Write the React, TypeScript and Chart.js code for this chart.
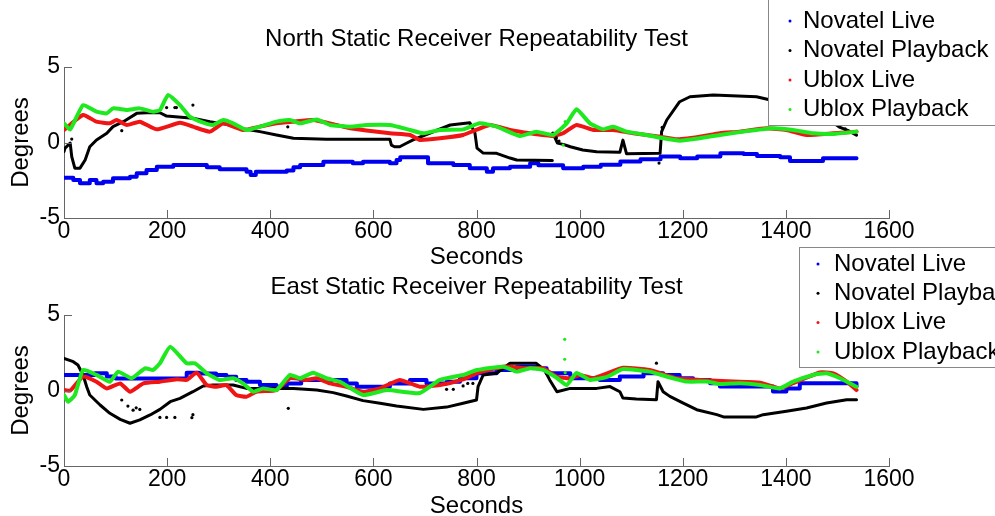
import { useEffect, useRef } from "react";
import { Chart, registerables } from "chart.js";

Chart.register(...registerables);

// ---------- data ----------
const SERIES_NAMES = ["Novatel Live", "Novatel Playback", "Ublox Live", "Ublox Playback"];
const X_MIN = 0;
const X_MAX = 1600;
const X_STEP = 200;
const Y_MIN = -5;
const Y_MAX = 5;
const Y_STEP = 5;

// North subplot
const northNovLiveT = [0, 18, 31, 50, 63, 76, 95, 128, 141, 160, 180, 212, 264, 277, 302, 354, 362, 372, 432, 445, 458, 503, 560, 580, 632, 645, 652, 706, 755, 787, 820, 832, 865, 904, 920, 968, 1007, 1041, 1079, 1118, 1157, 1195, 1228, 1273, 1318, 1344, 1389, 1408, 1472, 1537];
const northNovLiveV = [-2.33, -2.48, -2.7, -2.48, -2.7, -2.6, -2.37, -2.26, -2.04, -1.82, -1.6, -1.49, -1.49, -1.64, -1.77, -1.93, -2.15, -1.93, -1.86, -1.64, -1.49, -1.27, -1.38, -1.27, -1.38, -1.16, -0.98, -1.38, -1.49, -1.71, -1.93, -1.71, -1.6, -1.38, -1.5, -1.71, -1.6, -1.48, -1.26, -1.11, -0.93, -1.04, -0.93, -0.71, -0.76, -0.89, -0.98, -1.22, -1.04, -1.04];

// null marks a break in the recorded track
const northNovPbT = [0, 2, 12, 15, 21, 31, 41, 50, 63, 83, 95, 115, 141, 160, 186, 199, 250, 283, 315, 341, 380, 412, 445, 509, 632, 635, 641, 651, 664, 677, 710, 749, 787, 797, 801, 813, 839, 865, 878, 947, 947.5, 948, 957, 970, 982, 1006, 1033, 1078, 1084, 1091, 1156, 1159, 1169, 1194, 1214, 1259, 1343, 1366, 1420, 1480, 1505, 1520, 1537];
const northNovPbV = [-0.61, -0.37, -0.04, -0.94, -1.7, -1.7, -1.16, -0.28, 0.17, 0.61, 1.05, 1.38, 1.93, 1.97, 1.97, 1.75, 1.6, 1.38, 1.2, 0.94, 0.72, 0.5, 0.28, 0.21, 0.21, -0.17, -0.28, -0.28, -0.05, 0.17, 0.63, 1.16, 1.31, 0.62, -0.37, -0.7, -0.72, -1.03, -1.16, -1.2, null, 0.62, -0.04, -0.14, -0.28, -0.5, -0.61, -0.65, 0.16, -0.75, -0.72, 0.72, 1.49, 2.7, 3.03, 3.14, 3.03, 2.85, 2.5, 1.6, 1.0, 0.8, 0.49];
const northNovPbStrayT = [15, 112, 199, 215, 218, 250, 434, 955, 960, 1154, 1160, 1515];
const northNovPbStrayV = [0.23, 0.78, 2.31, 2.31, 2.31, 2.48, 1.04, 0.3, 0.1, -1.36, 1.0, 0.9];

const northUbxLiveT = [0, 37, 63, 89, 102, 122, 147, 180, 225, 250, 283, 309, 347, 380, 412, 445, 483, 529, 555, 632, 671, 690, 729, 774, 826, 865, 904, 948, 968, 994, 1027, 1065, 1104, 1156, 1188, 1233, 1272, 1311, 1362, 1401, 1440, 1492, 1537];
const northUbxLiveV = [0.83, 1.82, 1.38, 1.27, 1.49, 1.16, 1.38, 0.87, 1.31, 1.05, 0.72, 1.27, 0.83, 1.05, 1.27, 1.38, 1.49, 1.16, 0.94, 0.61, 0.5, 0.17, 0.28, 0.5, 1.16, 0.83, 0.61, 0.43, 0.61, 1.16, 0.83, 0.83, 0.61, 0.39, 0.21, 0.39, 0.61, 0.72, 0.94, 0.83, 0.5, 0.61, 0.72];

const northUbxPbT = [0, 12, 37, 63, 83, 95, 122, 147, 173, 186, 202, 225, 244, 270, 289, 309, 328, 354, 380, 412, 438, 458, 490, 516, 555, 587, 632, 671, 697, 729, 774, 806, 839, 884, 916, 948, 975, 994, 1020, 1046, 1065, 1091, 1130, 1162, 1194, 1233, 1272, 1317, 1375, 1414, 1453, 1492, 1537];
const northUbxPbV = [1.27, 0.87, 2.48, 2.04, 1.93, 2.26, 2.15, 2.26, 2.04, 2.15, 3.15, 2.48, 1.71, 1.31, 1.16, 1.49, 1.27, 0.83, 1.05, 1.38, 1.49, 1.27, 1.53, 1.16, 1.05, 1.16, 1.16, 0.83, 0.61, 0.83, 0.87, 1.27, 1.05, 0.43, 0.72, 0.5, 1.27, 2.2, 1.27, 0.87, 1.05, 0.72, 0.5, 0.28, 0.12, 0.28, 0.5, 0.72, 0.94, 0.83, 0.61, 0.57, 0.72];
const northUbxPbStrayT = [968, 972];
const northUbxPbStrayV = [-0.17, 1.38];

// East subplot
const eastNovLiveT = [0, 60, 83, 100, 238, 262, 295, 315, 334, 354, 380, 412, 432, 460, 548, 568, 632, 671, 703, 742, 768, 800, 839, 878, 916, 936, 982, 1039, 1078, 1124, 1162, 1194, 1220, 1253, 1272, 1375, 1401, 1427, 1530, 1537];
const eastNovLiveV = [1.03, 1.14, 0.92, 0.8, 1.18, 1.13, 1.03, 0.91, 0.7, 0.58, 0.36, 0.25, 0.47, 0.7, 0.47, 0.25, 0.47, 0.7, 0.47, 0.58, 0.81, 1.14, 1.36, 1.58, 1.48, 1.14, 0.81, 0.7, 0.92, 1.14, 1.03, 0.81, 0.7, 0.48, 0.26, -0.07, 0.14, 0.48, 0.48, 0.26];

const eastNovPbT = [0, 18, 27, 37, 44, 50, 70, 89, 109, 128, 147, 167, 186, 206, 225, 250, 270, 289, 328, 354, 445, 490, 522, 548, 580, 613, 645, 697, 742, 774, 800, 803, 813, 839, 865, 916, 932, 942, 956, 982, 1033, 1059, 1078, 1084, 1110, 1149, 1152, 1162, 1175, 1201, 1227, 1266, 1279, 1343, 1356, 1401, 1440, 1479, 1518, 1537];
const eastNovPbV = [2.13, 1.91, 1.69, 1.03, 0.25, -0.3, -0.96, -1.51, -1.91, -2.17, -1.95, -1.62, -1.25, -0.74, -0.52, -0.08, 0.3, 0.36, 0.36, 0.14, 0.14, 0.03, -0.14, -0.36, -0.67, -0.85, -1.03, -1.25, -1.1, -0.85, -0.63, 0.25, 1.03, 1.14, 1.8, 1.8, 1.36, 0.7, -0.08, 0.14, 0.14, 0.26, -0.08, -0.5, -0.56, -0.61, 0.58, -0.08, -0.39, -0.83, -1.27, -1.6, -1.75, -1.75, -1.6, -1.38, -1.16, -0.83, -0.61, -0.61];
const eastNovPbStrayT = [112, 124, 134, 140, 147, 186, 199, 215, 248, 250, 435, 742, 755, 774, 783, 793, 1149];
const eastNovPbStrayV = [-0.63, -1.03, -1.3, -1.15, -1.25, -1.78, -1.78, -1.78, -1.8, -1.6, -1.18, 0.08, 0.08, 0.3, 0.47, 0.47, 1.81];

const eastUbxLiveT = [0, 12, 37, 63, 83, 109, 128, 154, 186, 219, 238, 257, 277, 296, 315, 334, 354, 373, 412, 438, 470, 490, 516, 548, 580, 613, 651, 690, 729, 774, 800, 852, 891, 929, 956, 982, 1001, 1027, 1084, 1136, 1188, 1233, 1298, 1350, 1388, 1414, 1466, 1492, 1518, 1537];
const eastUbxLiveV = [0.03, -0.01, 0.92, 0.58, 0.14, 0.47, -0.08, 0.47, 0.58, 0.74, 0.7, 1.18, 0.36, 0.25, 0.36, -0.3, -0.41, -0.08, 0.03, 0.81, 0.7, 0.81, 0.47, 0.25, -0.08, 0.14, 0.7, 0.25, 0.36, 0.74, 1.14, 1.58, 1.48, 1.48, 0.92, 0.81, 1.03, 0.81, 1.5, 1.36, 0.81, 0.7, 0.59, 0.52, 0.14, 0.48, 1.19, 1.14, 0.59, 0.03];

const eastUbxPbT = [0, 8, 21, 37, 63, 89, 105, 131, 157, 173, 186, 206, 238, 254, 277, 302, 328, 347, 367, 386, 412, 438, 458, 483, 509, 535, 580, 626, 690, 729, 774, 801, 852, 878, 904, 929, 956, 975, 994, 1020, 1053, 1084, 1136, 1169, 1208, 1246, 1272, 1311, 1350, 1388, 1414, 1453, 1479, 1505, 1537];
const eastUbxPbV = [-0.3, -0.74, -0.3, 1.36, 1.03, 0.58, 1.25, 0.81, 1.47, 1.36, 1.8, 2.9, 1.8, 1.8, 1.14, 0.7, 0.81, 0.47, -0.08, 0.14, 0.03, 1.03, 0.81, 1.18, 0.81, 0.58, -0.3, 0.03, -0.17, 0.7, 1.03, 1.36, 1.58, 1.25, 1.48, 1.36, 0.83, 0.36, 1.16, 0.7, 0.9, 1.42, 1.25, 0.92, 0.59, 0.59, 0.43, 0.48, 0.37, 0.14, 0.59, 1.03, 1.14, 0.81, 0.25];
const eastUbxPbStrayT = [971, 971, 972];
const eastUbxPbStrayV = [3.39, 2.07, 1.18];

// ---------- styling ----------
const FONT = '"Liberation Sans", Arial, Helvetica, sans-serif';
const COLORS = ["rgb(0,0,240)", "rgb(0,0,0)", "rgb(240,20,20)", "rgb(30,232,30)"];
const AXIS = "#666";

const pts = (t: number[], v: (number | null)[]) => t.map((x, i) => ({ x, y: v[i] }));

type Spec = {
  title: string;
  padTop: number;
  padBottom: number;
  xH: number;
  lines: { t: number[]; v: (number | null)[] }[];
  strays: { t: number[]; v: number[]; color: string }[];
  legend: { x: number; y: number; w: number; h: number; firstY: number; dy: number; markX: number; textX: number };
};

function buildChart(canvas: HTMLCanvasElement, spec: Spec) {
  const lineDatasets: any[] = spec.lines.map((s, i) => ({
    label: SERIES_NAMES[i],
    data: pts(s.t, s.v),
    borderColor: COLORS[i],
    backgroundColor: COLORS[i],
    borderWidth: i === 1 ? 3 : 4,
    pointRadius: 0,
    fill: false,
    spanGaps: false,
    stepped: i === 0 ? true : false,
    tension: i >= 2 ? 0.15 : 0,
    borderJoinStyle: "round",
    borderCapStyle: "round",
    order: 4 - i,
  }));
  const strayDatasets: any[] = spec.strays.map((s) => ({
    label: "",
    data: pts(s.t, s.v),
    showLine: false,
    pointRadius: 1.6,
    pointBorderWidth: 0,
    pointBackgroundColor: s.color,
    order: 0,
  }));

  const decor = {
    id: "decor",
    afterDraw(chart: any) {
      const { ctx, chartArea, scales } = chart;
      ctx.save();
      // inward tick marks
      ctx.strokeStyle = AXIS;
      ctx.lineWidth = 1;
      ctx.beginPath();
      scales.x.ticks.forEach((tk: any) => {
        const px = Math.round(scales.x.getPixelForValue(tk.value)) + 0.5;
        ctx.moveTo(px, chartArea.bottom);
        ctx.lineTo(px, chartArea.bottom - 8);
      });
      scales.y.ticks.forEach((tk: any) => {
        const py = Math.round(scales.y.getPixelForValue(tk.value)) + 0.5;
        ctx.moveTo(chartArea.left, py);
        ctx.lineTo(chartArea.left + 8, py);
      });
      ctx.stroke();
      // title
      ctx.fillStyle = "#000";
      ctx.font = `24px ${FONT}`;
      ctx.textAlign = "center";
      ctx.textBaseline = "middle";
      ctx.fillText(spec.title, (chartArea.left + chartArea.right) / 2, chartArea.top - 27.5);
      // legend box
      const L = spec.legend;
      ctx.fillStyle = "#fff";
      ctx.fillRect(L.x, L.y, L.w, L.h);
      ctx.strokeStyle = "#888";
      ctx.strokeRect(L.x + 0.5, L.y + 0.5, L.w, L.h);
      ctx.textAlign = "left";
      SERIES_NAMES.forEach((name, i) => {
        const y = L.firstY + i * L.dy;
        ctx.fillStyle = COLORS[i];
        ctx.beginPath();
        ctx.arc(L.markX, y, 1.5, 0, Math.PI * 2);
        ctx.fill();
        ctx.fillStyle = "#000";
        ctx.fillText(name, L.textX, y);
      });
      ctx.restore();
    },
  };

  return new Chart(canvas, {
    type: "line",
    data: { datasets: [...lineDatasets, ...strayDatasets] },
    options: {
      responsive: false,
      animation: false,
      devicePixelRatio: 1,
      events: [],
      layout: { padding: { left: 0, right: 106, top: spec.padTop, bottom: spec.padBottom } },
      scales: {
        x: {
          type: "linear",
          min: X_MIN,
          max: X_MAX,
          ticks: {
            stepSize: X_STEP,
            autoSkip: false,
            maxRotation: 0,
            padding: 0,
            color: "#000",
            font: { family: FONT, size: 23 },
            callback: (value: any) => String(value),
          },
          grid: { display: false, drawTicks: false },
          border: { display: true, color: AXIS, width: 1 },
          title: {
            display: true,
            text: "Seconds",
            color: "#000",
            font: { family: FONT, size: 24, lineHeight: 0.8333 },
            padding: { top: 0, bottom: 0 },
          },
          afterFit: (s: any) => {
            s.height = spec.xH;
          },
        },
        y: {
          type: "linear",
          min: Y_MIN,
          max: Y_MAX,
          ticks: {
            stepSize: Y_STEP,
            padding: 4,
            color: "#000",
            font: { family: FONT, size: 23 },
            callback: (value: any) => String(value),
          },
          grid: { display: false, drawTicks: false },
          border: { display: true, color: AXIS, width: 1 },
          title: {
            display: true,
            text: "Degrees",
            color: "#000",
            font: { family: FONT, size: 24, lineHeight: 1 },
            padding: { top: 9.5, bottom: 0 },
          },
          afterFit: (s: any) => {
            s.width = 64;
          },
        },
      },
      plugins: { legend: { display: false }, tooltip: { enabled: false }, title: { display: false } },
    } as any,
    plugins: [decor],
  });
}

const NORTH: Spec = {
  title: "North Static Receiver Repeatability Test",
  padTop: 67,
  padBottom: 248.5,
  xH: 49.5,
  lines: [
    { t: northNovLiveT, v: northNovLiveV },
    { t: northNovPbT, v: northNovPbV },
    { t: northUbxLiveT, v: northUbxLiveV },
    { t: northUbxPbT, v: northUbxPbV },
  ],
  strays: [
    { t: northNovPbStrayT, v: northNovPbStrayV, color: COLORS[1] },
    { t: northUbxPbStrayT, v: northUbxPbStrayV, color: COLORS[3] },
  ],
  legend: { x: 768, y: -2, w: 240, h: 127, firstY: 21, dy: 29.5, markX: 790, textX: 803 },
};

const EAST: Spec = {
  title: "East Static Receiver Repeatability Test",
  padTop: 315,
  padBottom: 0,
  xH: 50,
  lines: [
    { t: eastNovLiveT, v: eastNovLiveV },
    { t: eastNovPbT, v: eastNovPbV },
    { t: eastUbxLiveT, v: eastUbxLiveV },
    { t: eastUbxPbT, v: eastUbxPbV },
  ],
  strays: [
    { t: eastNovPbStrayT, v: eastNovPbStrayV, color: COLORS[1] },
    { t: eastUbxPbStrayT, v: eastUbxPbStrayV, color: COLORS[3] },
  ],
  legend: { x: 799, y: 247, w: 220, h: 120, firstY: 264, dy: 29.3, markX: 818, textX: 834 },
};

export default function App() {
  const topRef = useRef<HTMLCanvasElement>(null);
  const botRef = useRef<HTMLCanvasElement>(null);
  useEffect(() => {
    const a = buildChart(topRef.current as HTMLCanvasElement, NORTH);
    const b = buildChart(botRef.current as HTMLCanvasElement, EAST);
    return () => {
      a.destroy();
      b.destroy();
    };
  }, []);
  return (
    <div style={{ position: "fixed", left: 0, top: 0, width: 995, height: 516, background: "#fff" }}>
      <canvas ref={topRef} width={995} height={516} style={{ position: "absolute", left: 0, top: 0 }} />
      <canvas ref={botRef} width={995} height={516} style={{ position: "absolute", left: 0, top: 0 }} />
    </div>
  );
}
